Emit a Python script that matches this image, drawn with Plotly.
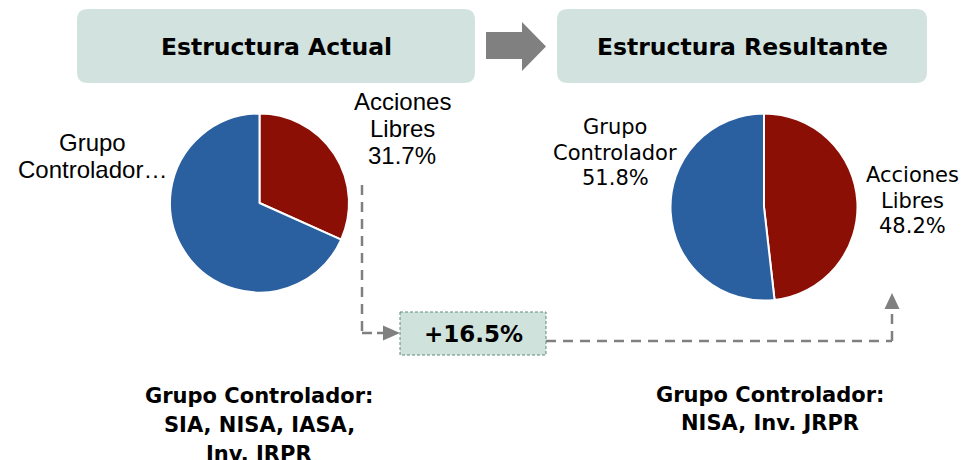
import plotly.graph_objects as go

# ---- data ----
categories = ["Acciones Libres", "Grupo Controlador"]
actual_values = [31.7, 68.3]
resultante_values = [48.2, 51.8]
increase_pct = 16.5
titles = ["Estructura Actual", "Estructura Resultante"]
left_labels = [["Grupo", "Controlador…"], ["Acciones", "Libres", f"{actual_values[0]:.1f}%"]]
right_labels = [["Grupo", "Controlador", f"{resultante_values[1]:.1f}%"],
                ["Acciones", "Libres", f"{resultante_values[0]:.1f}%"]]
footers = [["Grupo Controlador:", "SIA, NISA, IASA,", "Inv. JRPR"],
           ["Grupo Controlador:", "NISA, Inv. JRPR"]]

RED = "#8B0F05"
BLUE = "#2A5FA0"
HEAD_FILL = "#D2E3DF"
BOX_FILL = "#CFE2DC"
GRAY = "#808080"
W, H = 966, 460

fig = go.Figure()

def dom(x0, x1, y0, y1):
    return dict(x=[x0 / W, x1 / W], y=[1 - y1 / H, 1 - y0 / H])

fig.add_trace(go.Pie(labels=categories, values=actual_values, sort=False,
                     direction="clockwise", rotation=0, textinfo="none",
                     marker=dict(colors=[RED, BLUE], line=dict(color="white", width=2)),
                     domain=dom(170, 349, 113.5, 292.5), showlegend=False))
fig.add_trace(go.Pie(labels=categories, values=resultante_values, sort=False,
                     direction="clockwise", rotation=0, textinfo="none",
                     marker=dict(colors=[RED, BLUE], line=dict(color="white", width=2)),
                     domain=dom(670.5, 857.5, 113.5, 300.5), showlegend=False))

shapes = []

def rrect(x0, y0, x1, y1, r):
    return (f"M{x0+r},{y0} L{x1-r},{y0} Q{x1},{y0} {x1},{y0+r} L{x1},{y1-r} "
            f"Q{x1},{y1} {x1-r},{y1} L{x0+r},{y1} Q{x0},{y1} {x0},{y1-r} "
            f"L{x0},{y0+r} Q{x0},{y0} {x0+r},{y0} Z")

for (x0, x1) in [(77, 475), (557, 927)]:
    shapes.append(dict(type="path", xref="x", yref="y", path=rrect(x0, 9, x1, 83, 11),
                       fillcolor=HEAD_FILL, line=dict(width=0), layer="below"))

# big gray arrow
shapes.append(dict(type="path", xref="x", yref="y",
                   path="M486,32 L522,32 L522,22 L546,46.5 L522,71 L522,59 L486,59 Z",
                   fillcolor=GRAY, line=dict(width=0)))

dash = "10px,7px"
# left connector
shapes.append(dict(type="line", xref="x", yref="y", x0=362, y0=185, x1=362, y1=333,
                   line=dict(color=GRAY, width=2.5, dash=dash)))
shapes.append(dict(type="line", xref="x", yref="y", x0=362, y0=333, x1=384, y1=333,
                   line=dict(color=GRAY, width=2.5, dash="10px,5px")))
shapes.append(dict(type="path", xref="x", yref="y", path="M383,325.5 L400,333 L383,340.5 Z",
                   fillcolor=GRAY, line=dict(width=0)))
# box
shapes.append(dict(type="rect", xref="x", yref="y", x0=400, y0=312, x1=546, y1=355,
                   fillcolor=BOX_FILL, line=dict(color="#5E8A80", width=1, dash="3px,2px")))
# right connector
shapes.append(dict(type="line", xref="x", yref="y", x0=546, y0=341, x1=892, y1=341,
                   line=dict(color=GRAY, width=2.5, dash=dash)))
shapes.append(dict(type="line", xref="x", yref="y", x0=892, y0=341, x1=892, y1=308,
                   line=dict(color=GRAY, width=2.5, dash=dash)))
shapes.append(dict(type="path", xref="x", yref="y", path="M884.5,309 L892,293 L899.5,309 Z",
                   fillcolor=GRAY, line=dict(width=0)))

annotations = []

def txt(x, y, s, size, family, bold=False, color="black"):
    annotations.append(dict(x=x, y=y, xref="x", yref="y", text=f"<b>{s}</b>" if bold else s,
                            showarrow=False, xanchor="center", yanchor="middle",
                            font=dict(size=size, family=family, color=color)))

BOLDF = "DejaVu Sans"
txt(276, 47, titles[0], 23.5, BOLDF, True)
txt(742, 47, titles[1], 23.5, BOLDF, True)

# left pie labels (Arial-like)
for i, s in enumerate(left_labels[0]):
    txt(92, 142 + 27 * i, s, 24, "Liberation Sans")
for i, s in enumerate(left_labels[1]):
    txt(402, 101 + 27 * i, s, 24, "Liberation Sans")
# right pie labels (Verdana-like)
for i, s in enumerate(right_labels[0]):
    txt(615, 127 + 25.5 * i, s, 21, "DejaVu Sans")
for i, s in enumerate(right_labels[1]):
    txt(912, 175 + 25.5 * i, s, 21, "DejaVu Sans")

txt(473, 334, f"+{increase_pct:.1f}%", 23, BOLDF, True)

for i, s in enumerate(footers[0]):
    txt(259, 396 + 29 * i, s, 21, BOLDF, True)
for i, s in enumerate(footers[1]):
    txt(770, 395 + 28 * i, s, 21, BOLDF, True)

fig.update_layout(
    width=W, height=H, margin=dict(l=0, r=0, t=0, b=0),
    paper_bgcolor="white", plot_bgcolor="white",
    xaxis=dict(range=[0, W], visible=False, fixedrange=True),
    yaxis=dict(range=[H, 0], visible=False, fixedrange=True),
    shapes=shapes, annotations=annotations, showlegend=False,
)

fig.write_html("out.html", config={"displayModeBar": False},
               post_script="document.body.style.margin='0';document.body.style.overflow='hidden';")
